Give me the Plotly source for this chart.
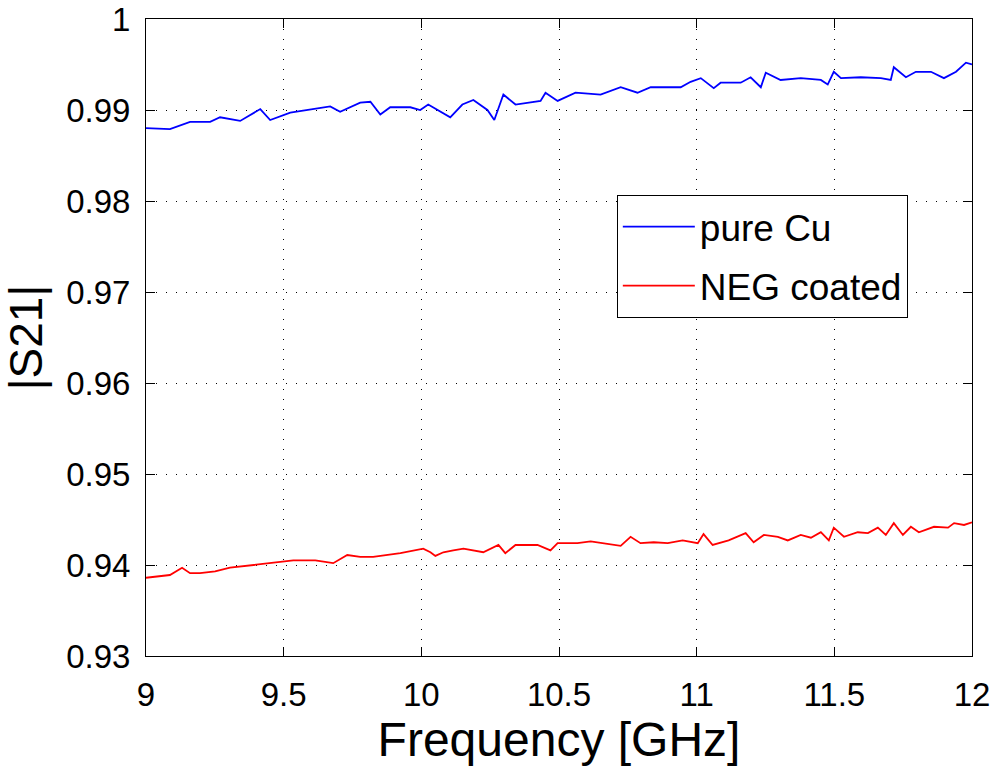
import plotly.graph_objects as go

# |S21| transmission measured on the pure copper sample
freq_cu = [9.000, 9.087, 9.160, 9.233, 9.269, 9.342, 9.415, 9.451, 9.524, 9.633,
           9.669, 9.705, 9.778, 9.815, 9.851, 9.887, 9.960, 9.996, 10.025, 10.105,
           10.149, 10.189, 10.240, 10.265, 10.298, 10.342, 10.433, 10.451, 10.495, 10.560,
           10.651, 10.724, 10.785, 10.833, 10.942, 10.978, 11.015, 11.062, 11.087, 11.160,
           11.196, 11.233, 11.251, 11.305, 11.378, 11.451, 11.476, 11.498, 11.524, 11.596,
           11.669, 11.705, 11.716, 11.760, 11.796, 11.851, 11.898, 11.942, 11.978, 12.000]
s21_cu = [0.9880, 0.9879, 0.9887, 0.9887, 0.9892, 0.9888, 0.9901, 0.9889, 0.9897, 0.9902,
          0.9904, 0.9898, 0.9908, 0.9909, 0.9895, 0.9903, 0.9903, 0.9900, 0.9906, 0.9892,
          0.9906, 0.9911, 0.9900, 0.9889, 0.9917, 0.9906, 0.9910, 0.9919, 0.9910, 0.9919,
          0.9917, 0.9925, 0.9919, 0.9925, 0.9925, 0.9931, 0.9935, 0.9924, 0.9930, 0.9930,
          0.9936, 0.9925, 0.9941, 0.9933, 0.9935, 0.9933, 0.9928, 0.9942, 0.9935, 0.9936,
          0.9935, 0.9933, 0.9947, 0.9936, 0.9942, 0.9942, 0.9935, 0.9942, 0.9952, 0.9950]

# |S21| transmission measured on the NEG coated sample
freq_neg = [9.000, 9.087, 9.131, 9.160, 9.196, 9.251, 9.305, 9.396, 9.487, 9.535,
            9.615, 9.680, 9.731, 9.778, 9.825, 9.876, 9.924, 10.007, 10.033, 10.051,
            10.080, 10.116, 10.153, 10.225, 10.280, 10.305, 10.342, 10.422, 10.469, 10.495,
            10.567, 10.615, 10.662, 10.724, 10.760, 10.796, 10.844, 10.895, 10.949, 11.004,
            11.025, 11.058, 11.116, 11.178, 11.207, 11.244, 11.295, 11.331, 11.378, 11.415,
            11.451, 11.480, 11.498, 11.535, 11.585, 11.622, 11.658, 11.687, 11.716, 11.749,
            11.778, 11.807, 11.862, 11.913, 11.935, 11.971, 12.000]
s21_neg = [0.9386, 0.9389, 0.9397, 0.9391, 0.9391, 0.9393, 0.9397, 0.9400, 0.9403, 0.9405,
           0.9405, 0.9402, 0.9411, 0.9409, 0.9409, 0.9411, 0.9413, 0.9418, 0.9414, 0.9410,
           0.9414, 0.9416, 0.9418, 0.9414, 0.9422, 0.9413, 0.9422, 0.9422, 0.9416, 0.9424,
           0.9424, 0.9426, 0.9424, 0.9421, 0.9431, 0.9424, 0.9425, 0.9424, 0.9427, 0.9424,
           0.9434, 0.9422, 0.9427, 0.9435, 0.9425, 0.9433, 0.9431, 0.9427, 0.9433, 0.9430,
           0.9436, 0.9427, 0.9441, 0.9431, 0.9436, 0.9435, 0.9441, 0.9433, 0.9446, 0.9433,
           0.9442, 0.9436, 0.9442, 0.9441, 0.9446, 0.9444, 0.9447]

x_ticks = [9, 9.5, 10, 10.5, 11, 11.5, 12]
x_tick_labels = ["9", "9.5", "10", "10.5", "11", "11.5", "12"]
y_ticks = [0.93, 0.94, 0.95, 0.96, 0.97, 0.98, 0.99, 1.0]
y_tick_labels = ["0.93", "0.94", "0.95", "0.96", "0.97", "0.98", "0.99", "1"]

FONT = "Liberation Sans, Arial, Helvetica, sans-serif"

fig = go.Figure()
fig.add_trace(go.Scatter(x=freq_cu, y=s21_cu, mode="lines", name="pure Cu",
                         legendgroup="cu",
                         line=dict(color="#0000ff", width=1.8)))
fig.add_trace(go.Scatter(x=freq_neg, y=s21_neg, mode="lines", name="NEG coated",
                         legendgroup="neg",
                         line=dict(color="#ff0000", width=1.8)))

axis_common = dict(
    showline=True, linecolor="black", linewidth=1, mirror="ticks",
    ticks="inside", ticklen=9, tickcolor="black", tickwidth=1,
    showgrid=True, gridcolor="black", gridwidth=1, griddash="1px,9px",
    zeroline=False, automargin=False,
    tickfont=dict(family=FONT, size=33, color="black"),
)

fig.update_xaxes(
    range=[9, 12], tickvals=x_ticks, ticktext=x_tick_labels,
    ticklabelstandoff=9,
    title=dict(text="Frequency [GHz]", font=dict(family=FONT, size=48, color="black"),
               standoff=4),
    **axis_common,
)
fig.update_yaxes(
    range=[0.93, 1.0], tickvals=y_ticks, ticktext=y_tick_labels,
    ticklabelstandoff=8,
    title=dict(text="|S21|", font=dict(family=FONT, size=46, color="black"),
               standoff=10),
    **axis_common,
)

fig.update_layout(
    width=992, height=768,
    margin=dict(l=146, r=20, t=19, b=112),
    paper_bgcolor="white", plot_bgcolor="white",
    font=dict(family=FONT, color="black"),
    legend=dict(
        x=0.570, y=0.7237, xanchor="left", yanchor="top",
        bgcolor="white", bordercolor="black", borderwidth=1,
        font=dict(family=FONT, size=37, color="black"),
        itemwidth=72, tracegroupgap=8,
    ),
)

fig.write_html("out.html")
